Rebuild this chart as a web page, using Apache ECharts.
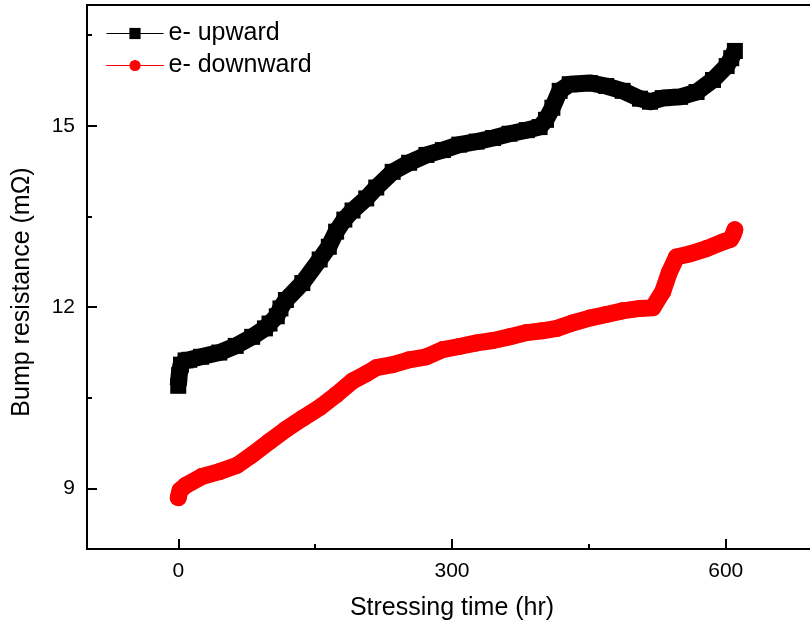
<!DOCTYPE html>
<html>
<head>
    <meta charset="utf-8">
    <title>Bump resistance</title>
    <script src="https://cdn.jsdelivr.net/npm/echarts@6/dist/echarts.min.js"></script>
    <style>
        html, body { margin: 0; padding: 0; background: #fff; }
        #chart { width: 810px; height: 630px; }
    </style>
</head>
<body>
    <div id="chart"></div>
    <script>
        // values
        var xTicks = [0, 300, 600];
        var xMinorTicks = [150, 450];
        var yTicks = [9, 12, 15];
        var yMinorTicks = [10.5, 13.5, 16.5];

        var upTime = [0, 1, 3, 8, 12, 25, 45, 63, 81, 95, 100, 108, 112, 118, 136, 155, 165, 173, 182, 191,
            206, 217, 235, 253, 272, 290, 308, 327, 345, 363, 382, 396, 403, 410, 418, 429, 451, 469, 487,
            506, 517, 531, 550, 568, 586, 601, 606, 610];
        var upRes = [10.70, 10.88, 11.05, 11.12, 11.13, 11.18, 11.25, 11.36, 11.51, 11.65, 11.73, 11.85, 11.98, 12.12,
            12.40, 12.79, 13.00, 13.25, 13.45, 13.60, 13.80, 13.98, 14.24, 14.39, 14.52, 14.60, 14.69, 14.74,
            14.80, 14.87, 14.93, 14.98, 15.10, 15.30, 15.58, 15.69, 15.71, 15.66, 15.58, 15.45, 15.40, 15.46,
            15.48, 15.56, 15.76, 15.99, 16.12, 16.24];

        var downTime = [0, 2, 8, 26, 45, 64, 81, 100, 118, 136, 155, 173, 191, 206, 217, 235, 253, 272, 290,
            308, 327, 345, 363, 382, 399, 415, 432, 451, 469, 487, 506, 520, 531, 538, 546, 560, 579, 597,
            605, 608, 610];
        var downRes = [8.85, 8.97, 9.05, 9.20, 9.28, 9.38, 9.56, 9.78, 9.98, 10.16, 10.34, 10.55, 10.78, 10.90,
            11.00, 11.05, 11.13, 11.18, 11.30, 11.35, 11.41, 11.45, 11.51, 11.58, 11.61, 11.65, 11.74, 11.82,
            11.88, 11.94, 11.98, 11.99, 12.26, 12.57, 12.83, 12.88, 12.97, 13.08, 13.12, 13.20, 13.28];

        function pairs(xs, ys) {
            var out = [];
            for (var i = 0; i < xs.length; i++) out.push([xs[i], ys[i]]);
            return out;
        }

        var font = '"Liberation Sans", Arial, sans-serif';
        var black = '#000';

        var chart = echarts.init(document.getElementById('chart'));
        chart.setOption({
            animation: false,
            backgroundColor: '#fff',
            textStyle: { fontFamily: font, color: black },
            grid: {
                left: 87, top: 5, width: 730, bottom: 81,
                outerBoundsMode: 'none', containLabel: false,
                show: true, borderColor: black, borderWidth: 2
            },
            legend: {
                orient: 'vertical',
                left: 101, top: 16,
                itemWidth: 57, itemHeight: 14, itemGap: 7,
                textStyle: { fontSize: 25, color: black, fontFamily: font },
                lineStyle: { width: 1 },
                data: ['e- upward', 'e- downward']
            },
            xAxis: [{
                type: 'value', position: 'bottom',
                min: -100, max: 700,
                name: 'Stressing time (hr)', nameLocation: 'middle', nameGap: 47,
                nameTextStyle: { fontSize: 25, color: black, fontFamily: font },
                axisLine: { onZero: false, lineStyle: { color: black, width: 2 } },
                axisTick: { inside: true, length: 10, customValues: xTicks, lineStyle: { color: black, width: 2 } },
                axisLabel: { customValues: xTicks, margin: 12, fontSize: 21, color: black, fontFamily: font },
                splitLine: { show: false }
            }, {
                type: 'value', position: 'bottom',
                min: -100, max: 700,
                axisLine: { show: false, onZero: false },
                axisTick: { inside: true, length: 5, customValues: xMinorTicks, lineStyle: { color: black, width: 2 } },
                axisLabel: { show: false },
                splitLine: { show: false }
            }],
            yAxis: [{
                type: 'value', position: 'left',
                min: 8, max: 17,
                name: 'Bump resistance (m\u03A9)', nameLocation: 'middle', nameGap: 52,
                nameTextStyle: { fontSize: 25, color: black, fontFamily: font, padding: [0, 30, 0, 0] },
                axisLine: { onZero: false, lineStyle: { color: black, width: 2 } },
                axisTick: { inside: true, length: 10, customValues: yTicks, lineStyle: { color: black, width: 2 } },
                axisLabel: { customValues: yTicks, margin: 12, fontSize: 21, color: black, fontFamily: font },
                splitLine: { show: false }
            }, {
                type: 'value', position: 'left',
                min: 8, max: 17,
                axisLine: { show: false, onZero: false },
                axisTick: { inside: true, length: 5, customValues: yMinorTicks, lineStyle: { color: black, width: 2 } },
                axisLabel: { show: false },
                splitLine: { show: false }
            }],
            series: [{
                name: 'e- upward',
                type: 'line',
                data: pairs(upTime, upRes),
                symbol: 'rect', symbolSize: 16, showAllSymbol: true,
                itemStyle: { color: black },
                lineStyle: { color: black, width: 17, join: 'round' }
            }, {
                name: 'e- downward',
                type: 'line',
                data: pairs(downTime, downRes),
                symbol: 'circle', symbolSize: 17, showAllSymbol: true,
                itemStyle: { color: '#ff0000' },
                lineStyle: { color: '#ff0000', width: 17, cap: 'round', join: 'round' }
            }]
        });
    </script>
</body>
</html>
